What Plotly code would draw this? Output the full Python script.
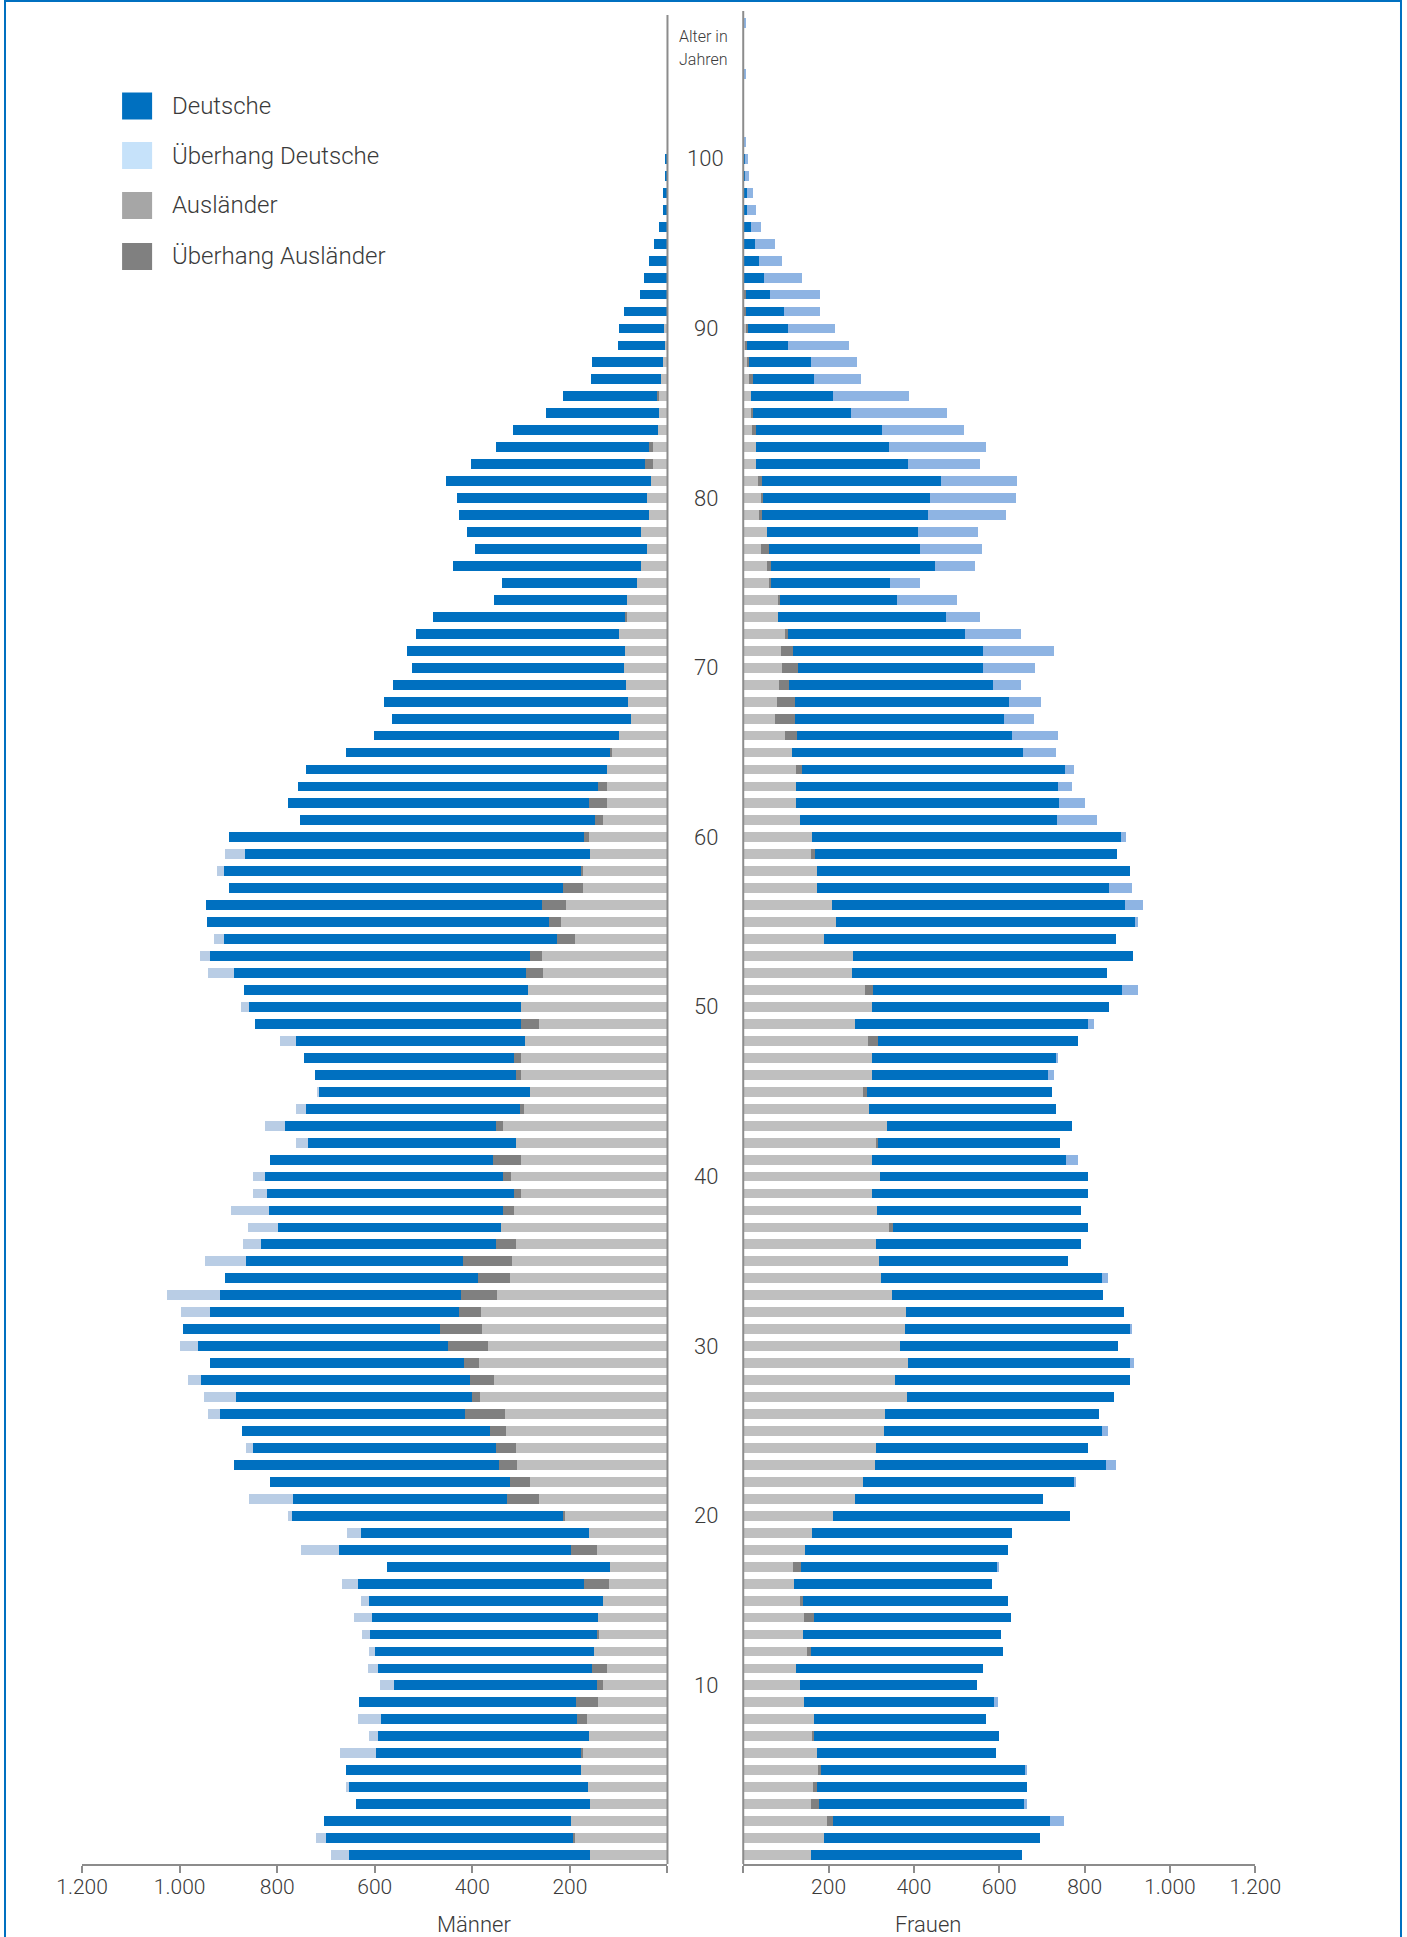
import plotly.graph_objects as go

W, H = 1407, 1937
SQUEEZE = 0.9638            # horizontal squeeze observed in the rendered page
FIG_W = round(W / SQUEEZE)  # figure drawn wider so the squeezed result spans W
SHIFT = 26.6                # left shift (page px) observed in the rendered page

alter = list(range(0, 109))

maenner_deutsche = [
    532, 527, 508, 480, 495, 480, 493, 451, 449, 445,
    444, 458, 461, 481, 499, 497, 496, 458, 554, 497,
    563, 530, 493, 543, 512, 510, 526, 549, 577, 520,
    549, 526, 571, 602, 517, 529, 519, 517, 556, 535,
    513, 456, 452, 473, 458, 438, 413, 431, 502, 545,
    573, 583, 651, 677, 704, 701, 688, 684, 745, 749,
    726, 604, 618, 614, 618, 541, 502, 489, 502, 478,
    434, 445, 416, 394, 273, 278, 385, 353, 355, 390,
    390, 420, 357, 313, 296, 230, 192, 143, 145, 96,
    92, 90, 57, 49, 38, 27, 18, 10, 10, 5,
    5, 0, 0, 0, 0, 0, 0, 0, 0]

frauen_deutsche = [
    495, 506, 541, 489, 491, 484, 419, 434, 403, 455,
    416, 438, 449, 464, 462, 480, 463, 463, 476, 469,
    554, 440, 498, 566, 499, 524, 501, 484, 552, 529,
    512, 531, 510, 495, 531, 443, 482, 456, 478, 506,
    488, 484, 427, 432, 438, 433, 427, 436, 469, 559,
    556, 620, 598, 657, 684, 706, 731, 736, 732, 708,
    736, 698, 679, 647, 637, 620, 610, 559, 576, 543,
    556, 613, 546, 473, 415, 348, 480, 499, 496, 573,
    592, 599, 526, 539, 488, 455, 371, 251, 253, 237,
    204, 175, 174, 138, 90, 74, 41, 29, 24, 14,
    11, 6, 0, 0, 0, 6, 0, 0, 6]

maenner_auslaender = [
    158, 194, 197, 158, 163, 178, 178, 160, 185, 188,
    145, 155, 150, 145, 143, 132, 172, 117, 198, 160,
    215, 328, 322, 345, 351, 363, 416, 401, 405, 418,
    450, 467, 427, 423, 389, 420, 351, 342, 338, 314,
    337, 358, 310, 351, 303, 281, 310, 314, 292, 300,
    301, 285, 291, 281, 226, 242, 257, 215, 178, 158,
    172, 149, 160, 143, 123, 118, 99, 75, 80, 84,
    90, 88, 99, 87, 82, 62, 55, 42, 55, 38,
    42, 34, 46, 38, 20, 18, 22, 14, 10, 5,
    7, 0, 0, 0, 0, 0, 0, 0, 0, 0,
    0, 0, 0, 0, 0, 0, 0, 0, 0]

frauen_auslaender = [
    158, 190, 211, 177, 173, 182, 174, 165, 165, 143,
    132, 123, 159, 141, 166, 141, 119, 136, 145, 160,
    211, 263, 281, 308, 310, 330, 333, 384, 355, 386,
    367, 380, 382, 349, 323, 318, 310, 352, 314, 301,
    320, 301, 315, 338, 294, 291, 301, 301, 315, 263,
    301, 304, 255, 257, 189, 218, 207, 174, 174, 168,
    160, 132, 123, 123, 137, 114, 127, 122, 122, 107,
    128, 116, 104, 82, 87, 66, 64, 61, 55, 43,
    47, 43, 29, 29, 30, 23, 18, 24, 14, 10,
    12, 6, 6, 0, 0, 0, 0, 0, 0, 0,
    0, 0, 0, 0, 0, 0, 0, 0, 0]

achsen_werte = [0, 200, 400, 600, 800, 1000, 1200]
achsen_texte = ["", "200", "400", "600", "800", "1.000", "1.200"]
alters_marken = [10, 20, 30, 40, 50, 60, 70, 80, 90, 100]

# derived: common part and surplus ("Überhang")
deu_gemeinsam = [min(m, f) for m, f in zip(maenner_deutsche, frauen_deutsche)]
aus_gemeinsam = [min(m, f) for m, f in zip(maenner_auslaender, frauen_auslaender)]
m_ueb_deu = [m - c for m, c in zip(maenner_deutsche, deu_gemeinsam)]
f_ueb_deu = [f - c for f, c in zip(frauen_deutsche, deu_gemeinsam)]
m_ueb_aus = [m - c for m, c in zip(maenner_auslaender, aus_gemeinsam)]
f_ueb_aus = [f - c for f, c in zip(frauen_auslaender, aus_gemeinsam)]

BLUE = "#0070C0"
LB_LEFT = "#B9CDE5"
LB_RIGHT = "#8EB4E3"
GRAY = "#BFBFBF"
DGRAY = "#808080"
AXIS = "#8C8C8C"
TXT = "#3A3A3A"
FONT = "Roboto"


def px(x):
    return x / W


def py(y):
    return 1 - y / H


fig = go.Figure()

for vals, col, ax in [
    (aus_gemeinsam, GRAY, "x"), (m_ueb_aus, DGRAY, "x"),
    (deu_gemeinsam, BLUE, "x"), (m_ueb_deu, LB_LEFT, "x"),
    (aus_gemeinsam, GRAY, "x2"), (f_ueb_aus, DGRAY, "x2"),
    (deu_gemeinsam, BLUE, "x2"), (f_ueb_deu, LB_RIGHT, "x2"),
]:
    fig.add_trace(go.Bar(
        x=vals, y=alter, orientation="h", xaxis=ax, yaxis="y",
        marker=dict(color=col, line=dict(width=0)),
        showlegend=False, hoverinfo="skip"))

xa_common = dict(
    tickvals=achsen_werte, ticktext=achsen_texte,
    showline=True, linecolor=AXIS, linewidth=2,
    ticks="outside", ticklen=7, tickwidth=2, tickcolor=AXIS,
    showgrid=False, zeroline=False, anchor="y", fixedrange=True,
    tickfont=dict(family=FONT, size=21, color=TXT, weight=300),
    ticklabelstandoff=-4,
)

fig.update_layout(
    width=FIG_W, height=H, autosize=False,
    margin=dict(l=0, r=0, t=0, b=0),
    paper_bgcolor="white", plot_bgcolor="rgba(0,0,0,0)",
    barmode="stack", bargap=0.42,
    font=dict(family=FONT, color=TXT, weight=300),
    xaxis=dict(domain=[px(83), px(668)], range=[1200, 0], **xa_common),
    xaxis2=dict(domain=[px(743.7), px(1255.4)], range=[0, 1200], **xa_common),
    yaxis=dict(domain=[py(1864), py(13)], range=[-0.53, 108.6],
               visible=False, fixedrange=True),
)

shapes = [
    dict(type="line", xref="paper", yref="paper", x0=px(668), x1=px(668),
         y0=py(1864), y1=py(15), line=dict(color=AXIS, width=2)),
    dict(type="line", xref="paper", yref="paper", x0=px(743.7), x1=px(743.7),
         y0=py(1864), y1=py(11), line=dict(color=AXIS, width=2)),
    dict(type="rect", xref="paper", yref="paper", x0=px(6), x1=px(1401),
         y0=py(1960), y1=py(1), line=dict(color=BLUE, width=2)),
]

annotations = []
for a in alters_marken:
    annotations.append(dict(x=px(706), xref="paper", y=a, yref="y",
                            text=str(a), showarrow=False,
                            font=dict(size=22, color=TXT, family=FONT, weight=300)))

annotations += [
    dict(x=px(704), y=py(25), xref="paper", yref="paper", text="Alter in",
         showarrow=False, font=dict(size=16, color=TXT, family=FONT, weight=300)),
    dict(x=px(704), y=py(48), xref="paper", yref="paper", text="Jahren",
         showarrow=False, font=dict(size=16, color=TXT, family=FONT, weight=300)),
    dict(x=px(436), y=py(1910), xref="paper", yref="paper", text="Männer",
         yanchor="top", showarrow=False,
         font=dict(size=22, color=TXT, family=FONT, weight=300)),
    dict(x=px(963), y=py(1910), xref="paper", yref="paper", text="Frauen",
         yanchor="top", showarrow=False,
         font=dict(size=22, color=TXT, family=FONT, weight=300)),
]

legende = [("Deutsche", BLUE, 106), ("Überhang Deutsche", "#C6E2FA", 155.5),
           ("Ausländer", "#A6A6A6", 205.5), ("Überhang Ausländer", DGRAY, 256.5)]
for name, col, yc in legende:
    shapes.append(dict(type="rect", xref="paper", yref="paper",
                       x0=px(123), x1=px(153), y0=py(yc + 13.5), y1=py(yc - 13.5),
                       fillcolor=col, line=dict(width=0)))
    annotations.append(dict(x=px(171), y=py(yc), xref="paper", yref="paper",
                            text=name, xanchor="left", yanchor="middle",
                            showarrow=False,
                            font=dict(size=24, color=TXT, family=FONT, weight=300)))

fig.update_layout(shapes=shapes, annotations=annotations)

post = ("document.documentElement.style.margin='0';"
        "document.documentElement.style.overflow='hidden';"
        "document.body.style.margin='0';document.body.style.padding='0';"
        "document.body.style.overflow='hidden';"
        "var d=document.querySelector('.plotly-graph-div');"
        "if(d){d.style.marginLeft='-" + str(SHIFT) + "px';}")

fig.write_html("out.html", config={"responsive": False, "displayModeBar": False},
               post_script=post)
